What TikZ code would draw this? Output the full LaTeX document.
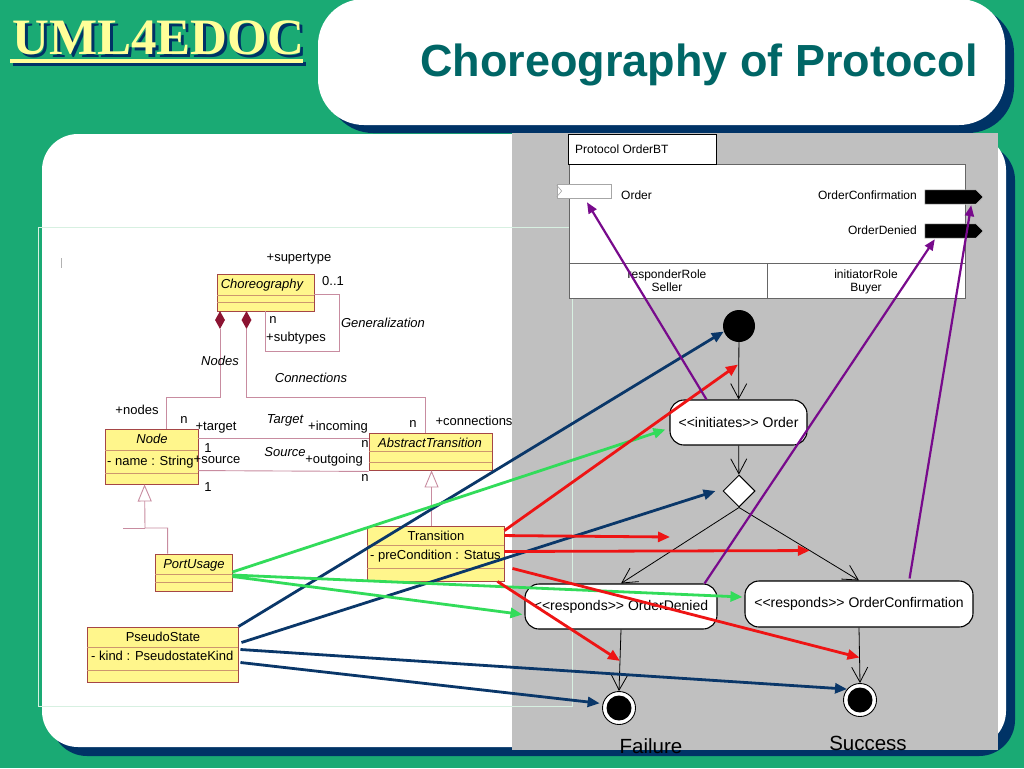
\documentclass[tikz,border=0pt]{standalone}
\usepackage{fontspec}
\setmainfont{Liberation Sans}
\newfontfamily\titleserif{Liberation Serif}
\usetikzlibrary{arrows.meta,calc,shapes.geometric}
\definecolor{bggreen}{RGB}{26,170,116}
\definecolor{navyshadow}{RGB}{0,51,102}
\definecolor{titleteal}{RGB}{0,102,102}
\definecolor{titleyellow}{RGB}{255,255,153}
\definecolor{umlyellow}{RGB}{255,246,140}
\definecolor{umlborder}{RGB}{165,70,70}
\definecolor{umlsepc}{RGB}{205,150,110}
\definecolor{assocc}{RGB}{200,140,160}
\definecolor{diamc}{RGB}{140,20,50}
\definecolor{mapred}{RGB}{238,20,20}
\definecolor{mapgreen}{RGB}{50,220,90}
\definecolor{mapnavy}{RGB}{10,55,105}
\definecolor{mappurple}{RGB}{120,10,140}
\definecolor{panelgray}{RGB}{192,192,192}
\definecolor{framegreen}{RGB}{215,240,225}
\newcommand\fsz[1]{\fontsize{#1}{#1}\selectfont}
\newcommand\ltlt{<\kern0pt<}
\newcommand\gtgt{>\kern0pt>}
\tikzset{
  umlbox/.style={rectangle, draw=umlborder, fill=umlyellow, line width=0.9pt, inner sep=0pt},
  umlsep/.style={draw=umlsepc, line width=0.7pt},
  lbl/.style={inner sep=0pt, anchor=base, font=\fsz{13}},
  ilbl/.style={inner sep=0pt, anchor=base, font=\fsz{13}\itshape},
  assocline/.style={draw=assocc, line width=0.9pt},
  gentip/.style={-{Triangle[open,length=17pt,width=14pt]}},
  aggdiam/.style={diamond, fill=diamc, inner sep=0pt, minimum width=10pt, minimum height=18pt},
  stbox/.style={rectangle, draw=black, fill=white, line width=1.1pt, rounded corners=14pt, inner sep=0pt, font=\fsz{14}},
  initst/.style={circle, fill=black, minimum size=32pt, inner sep=0pt},
  decision/.style={diamond, draw=black, fill=white, line width=1pt, inner sep=0pt, minimum width=32pt, minimum height=32pt},
  finalst/.style={circle, draw=black, fill=white, line width=0.9pt, minimum size=33pt, inner sep=0pt, path picture={\fill[black] (path picture bounding box.center) circle (12.5pt);}},
  trline/.style={draw=black, line width=0.8pt, -{Straight Barb[length=15pt,width=16pt]}},
  mapline/.style={line width=2.8pt, -{Triangle[length=12pt,width=10pt]}},
  purpline/.style={line width=2.2pt, draw=mappurple, -{Triangle[length=11pt,width=9pt]}},
  ptxt/.style={inner sep=0pt, anchor=base, font=\fsz{12}},
  portbox/.style={inner sep=0pt, minimum width=58pt, minimum height=14pt},
}
\newcommand\umlclass[7]{%
  \node[umlbox, minimum width={#4-#2}, minimum height={#5-#3}] (#1) at ({(#2+#4)/2},{(#3+#5)/2}) {};
  \draw[umlsep] (#2,#6) -- (#4,#6) (#2,#7) -- (#4,#7);
}
\begin{document}
\begin{tikzpicture}[x=1pt,y=-1pt]
\useasboundingbox (0,0) rectangle (1024,768);
\fill[bggreen] (0,0) rectangle (1024,768);
% title panel
\fill[navyshadow, rounded corners=46pt] (327,7) rectangle (1014,133);
\fill[white, rounded corners=46pt] (318,-1) rectangle (1005,125);
% main panel
\fill[navyshadow, rounded corners=36pt] (51,144) rectangle (1015,756);
\fill[white, rounded corners=36pt] (42,134) rectangle (1006,747);
\fill[panelgray] (512,133) rectangle (998,750);
\draw[framegreen, line width=0.8pt] (38,227) rectangle (572,706);
\draw[gray!60, line width=0.6pt] (61,258) -- (61,268);
% logo and title
\node[anchor=base west, inner sep=0pt, font=\titleserif\bfseries\fsz{51}, text=navyshadow] (logoshadow) at (15,58) {UML4EDOC};
\fill[navyshadow] (13,62) rectangle (306,66);
\fill[titleyellow] (10,59) rectangle (303,63);
\node[anchor=base west, inner sep=0pt, font=\titleserif\bfseries\fsz{51}, text=titleyellow] (logo) at (12,55) {UML4EDOC};
\node[anchor=base, inner sep=0pt, font=\bfseries\fsz{45}, text=titleteal] (title) at (699,76) {Choreography of Protocol};

% ---------- UML class diagram ----------
\umlclass{choreo}{217}{274}{314}{311}{295}{302}
\umlclass{nodecls}{105}{429}{198}{484}{450}{473}
\umlclass{abstr}{369}{433}{492}{470}{451}{462}
\umlclass{portu}{155}{554}{232}{591}{574}{582}
\umlclass{trans}{367}{526}{504}{581}{545}{568}
\umlclass{pseudo}{87}{627}{238}{682}{647}{670}
\node[ilbl] at (262,288) {Choreography};
\node[ilbl] at (152,443) {Node};
\node[lbl, anchor=base west] at (107,465) {- name : String};
\node[ilbl] at (430,447) {AbstractTransition};
\node[ilbl] at (194,568) {PortUsage};
\node[lbl] at (436,540) {Transition};
\node[lbl, anchor=base west] at (370,559) {- preCondition : Status};
\node[lbl] at (163,641) {PseudoState};
\node[lbl, anchor=base west] at (91,660) {- kind : PseudostateKind};

% aggregation diamonds
\node[aggdiam] (dia1) at (220,320) {};
\node[aggdiam] (dia2) at (246.5,320) {};
\draw[assocline] (dia1.south) -- ++(0,68) -| ($(nodecls.north west)+(62,0)$);
\draw[assocline] (dia2.south) -- ++(0,68) -| ($(abstr.north west)+(57,0)$);
% generalization self loop
\draw[assocline] ($(choreo.east)+(0,1.5)$) -| (339,351) -| ($(choreo.south west)+(49,0)$);
% associations
\draw[assocline] ($(nodecls.north east)+(0,10)$) -- ($(abstr.north west)+(0,6)$);
\draw[assocline] ($(nodecls.north east)+(0,42)$) -- ($(abstr.south west)+(0,1)$);
% inheritance
\draw[assocline, gentip] ($(portu.north west)+(13,0)$) |- (145,528) -- ($(nodecls.south west)+(40,0)$);
\draw[assocline] (145,528) -- (123,528);
\draw[assocline, gentip] ($(trans.north west)+(65,0)$) -- ($(abstr.south west)+(63,0)$);

% labels
\node[lbl] at (299,261) {+supertype};
\node[lbl] at (333,285) {0..1};
\node[lbl] at (273,323) {n};
\node[lbl] at (296,341) {+subtypes};
\node[ilbl] at (383,327) {Generalization};
\node[ilbl] at (220,365) {Nodes};
\node[ilbl] at (311,382) {Connections};
\node[lbl] at (137,414) {+nodes};
\node[lbl] at (184,423) {n};
\node[lbl] at (216,430) {+target};
\node[ilbl] at (285,423) {Target};
\node[lbl] at (338,430) {+incoming};
\node[lbl] at (413,427) {n};
\node[lbl] at (474,425) {+connections};
\node[lbl] at (208,452) {1};
\node[lbl] at (217,463) {+source};
\node[ilbl] at (285,456) {Source};
\node[lbl] at (334,463) {+outgoing};
\node[lbl] at (365,447) {n};
\node[lbl] at (365,481) {n};
\node[lbl] at (208,491) {1};

% ---------- protocol ----------
\node[draw=gray!80!black, fill=white, line width=0.7pt, minimum width=396pt, minimum height=134pt, inner sep=0pt] (pbox) at (767,231) {};
\node[draw=black, fill=white, line width=0.8pt, minimum width=148pt, minimum height=30pt, inner sep=0pt] (ptab) at (642,149) {};
\node[ptxt, anchor=base west] at (575,153) {Protocol OrderBT};
\draw[gray!80!black, line width=0.7pt] ($(pbox.south west)+(0,-35)$) -- ($(pbox.south east)+(0,-35)$);
\draw[gray!80!black, line width=0.7pt] ($(pbox.south)+(0,-35)$) -- (pbox.south);
\node[ptxt] at (667,278) {responderRole};
\node[ptxt] at (667,291) {Seller};
\node[ptxt] at (866,278) {initiatorRole};
\node[ptxt] at (866,291) {Buyer};
\node[draw=gray!70, fill=white, line width=0.6pt, minimum width=54pt, minimum height=14pt, inner sep=0pt] (porder) at (584,191) {};
\draw[gray!70, line width=0.6pt] ($(porder.north west)+(0,1.5)$) -- ($(porder.west)+(5,0)$) -- ($(porder.south west)+(0,-1.5)$);
\node[ptxt, anchor=base west] at (621,199) {Order};
\node[portbox] (pconf) at (954,197) {};
\filldraw[fill=black, draw=gray!40, line width=0.6pt] (pconf.north west) -- ($(pconf.north east)+(-7,0)$) -- (pconf.east) -- ($(pconf.south east)+(-7,0)$) -- (pconf.south west) -- cycle;
\node[ptxt, anchor=base east] at (917,199) {OrderConfirmation};
\node[portbox] (pdenied) at (954,231) {};
\filldraw[fill=black, draw=gray!40, line width=0.6pt] (pdenied.north west) -- ($(pdenied.north east)+(-7,0)$) -- (pdenied.east) -- ($(pdenied.south east)+(-7,0)$) -- (pdenied.south west) -- cycle;
\node[ptxt, anchor=base east] at (917,234) {OrderDenied};

% ---------- states ----------
\node[initst] (init) at (739,326) {};
\node[stbox, minimum width=137pt, minimum height=45pt] (ordst) at (738.5,422.5) {\ltlt initiates\gtgt{} Order};
\node[decision] (dec) at (739,491) {};
\node[stbox, minimum width=192pt, minimum height=45pt] (denst) at (621,606.5) {\ltlt responds\gtgt{} OrderDenied};
\node[stbox, minimum width=228pt, minimum height=46pt] (confst) at (859,604) {\ltlt responds\gtgt{} OrderConfirmation};
\node[finalst] (fail) at (619,708) {};
\node[finalst] (succ) at (860,700) {};
\node[inner sep=0pt, anchor=base, font=\fsz{20.5}] (failtxt) at (651,753) {Failure};
\node[inner sep=0pt, anchor=base, font=\fsz{20.5}] (succtxt) at (868,750) {Success};

\draw[trline] (init) -- coordinate[pos=0.38] (t1) (ordst);
\draw[trline] (ordst) -- (dec);
\draw[trline] (dec.south) -- (denst.north);
\draw[trline] (dec.south) -- coordinate[pos=0.59] (t3) (confst.north);
\draw[trline] (denst.south) -- coordinate[pos=0.51] (t5) (fail.north);
\draw[trline] (confst.south) -- coordinate[pos=0.54] (t4) (succ.north);

% ---------- mapping arrows ----------
\draw[mapline, mapnavy] (pseudo.north east) -- (init.200);
\draw[mapline, mapnavy] ($(pseudo.east)+(3,-12)$) -- ($(dec.west)+(-7,0)$);
\draw[mapline, mapnavy] ($(pseudo.east)+(2,-5)$) -- (succ.140);
\draw[mapline, mapnavy, shorten >=3pt] ($(pseudo.east)+(2,8)$) -- (fail.165);

\draw[mapline, mapgreen] ($(portu.east)+(0,-0.5)$) -- ($(ordst.west)+(-4,7)$);
\draw[mapline, mapgreen] ($(portu.east)+(0,2.5)$) -- ($(confst.west)+(-2,-7)$);
\draw[mapline, mapgreen] ($(portu.east)+(0,4)$) -- ($(denst.west)+(-2,8)$);

\coordinate (r2) at (670,537);
\draw[mapline, mapred, shorten >=1pt] ($(trans.north east)+(0,5)$) -- (t1);
\draw[mapline, mapred] ($(trans.north east)+(0,10)$) -- (r2);
\draw[mapline, mapred] ($(trans.east)+(0,-2)$) -- (t3);
\draw[mapline, mapred] ($(trans.south east)+(8,-13)$) -- (t4);
\draw[mapline, mapred] ($(trans.south east)+(-7,0)$) -- (t5);

\draw[purpline] ($(ordst.north west)+(37,0)$) -- ($(porder.south)+(3,4)$);
\draw[purpline] ($(denst.north east)+(-13,0)$) -- ($(pdenied.south west)+(10,1)$);
\draw[purpline] ($(confst.north east)+(-64,-2)$) -- ($(pconf.south east)+(-12,1)$);
\end{tikzpicture}
\end{document}
